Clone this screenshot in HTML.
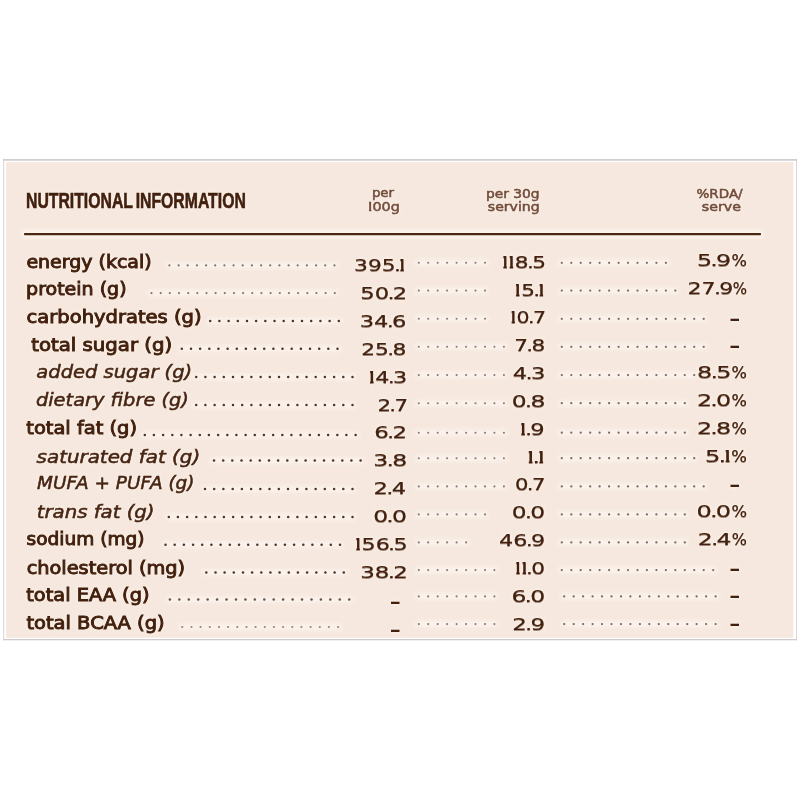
<!DOCTYPE html>
<html lang="en"><head><meta charset="utf-8"><title>Nutritional Information</title>
<style>
html,body{margin:0;padding:0;background:#fff;}
body{width:800px;height:800px;position:relative;overflow:hidden;font-family:"DejaVu Sans","Liberation Sans",sans-serif;}
.t{position:absolute;white-space:nowrap;line-height:1;margin:0;padding:0;color:#43200d;transform-origin:0 0;text-shadow:0 0 3px rgba(255,251,247,.85),0 0 6px rgba(255,251,247,.7);}
.lab{font-size:18.3px;-webkit-text-stroke:0.95px #43200d;}
.labi{font-style:italic;font-size:18.3px;-webkit-text-stroke:0.55px #482512;color:#482512;}
.num{font-size:16.6px;-webkit-text-stroke:0.15px #43200d;text-shadow:0 1px 0 rgba(67,32,13,.5),0 0 3px rgba(255,251,247,.85),0 0 6px rgba(255,251,247,.7);}
.num u{text-decoration:none;display:inline-block;margin:0 -1.3px;}
.num b,.hd b{font-weight:400;display:inline-block;margin-left:-.196em;margin-right:-.148em;clip-path:inset(-1px .226em -2px .253em);}
.num i{font-style:normal;display:inline-block;transform:scaleX(.68);transform-origin:0 50%;margin-left:-0.3px;margin-right:-4.86px;}
.dsh{font-size:16px;font-weight:700;}
.title{font-family:"Liberation Sans",sans-serif;font-weight:700;font-size:22.6px;word-spacing:-2px;-webkit-text-stroke:0.65px #43200d;}
.hd{font-size:13px;color:#734c3a;-webkit-text-stroke:0.55px #734c3a;}
svg{position:absolute;left:0;top:0;}
</style></head>
<body>
<svg width="800" height="800" viewBox="0 0 800 800"><rect x="3.2" y="159.2" width="793.8" height="481" fill="#fff"/><rect x="6.1" y="162.1" width="787.3" height="475.7" fill="#f6e8de"/><rect x="3.2" y="159.2" width="1.05" height="481" fill="#d8d4da"/><rect x="796" y="159.2" width="1.05" height="481" fill="#dbd7dd"/><rect x="3.2" y="159.15" width="793.85" height="1.5" fill="#c9c4c9"/><rect x="3.2" y="639.0" width="793.85" height="1.3" fill="#d0cacf"/></svg>
<div class="t title" style="left:0;top:190px;transform:translateX(26.00px) scaleX(0.6985)">NUTRITIONAL INFORMATION</div>
<div class="t hd" style="left:0;top:186px;transform:translateX(371.89px) scaleX(1.0249)">per</div>
<div class="t hd" style="left:0;top:200px;transform:translateX(368.19px) scaleX(1.1027)"><b>1</b>00g</div>
<div class="t hd" style="left:0;top:187px;transform:translateX(485.90px) scaleX(1.0612)">per 30g</div>
<div class="t hd" style="left:0;top:200px;transform:translateX(487.81px) scaleX(1.0813)">serving</div>
<div class="t hd" style="left:0;top:187px;transform:translateX(696.56px) scaleX(1.0373)">%RDA/</div>
<div class="t hd" style="left:0;top:200px;transform:translateX(701.83px) scaleX(1.0908)">serve</div>
<div class="t lab" style="left:0;top:253px;transform:translateX(26.41px) scaleX(1.0374)">energy (kcal)</div>
<div class="t lab" style="left:0;top:280px;transform:translateX(26.08px) scaleX(1.0394)">protein (g)</div>
<div class="t lab" style="left:0;top:308px;transform:translateX(26.61px) scaleX(1.0671)">carbohydrates (g)</div>
<div class="t lab" style="left:0;top:336px;transform:translateX(31.26px) scaleX(1.0782)">total sugar (g)</div>
<div class="t labi" style="left:0;top:363px;transform:translateX(36.36px) scaleX(1.0659)">added sugar (g)</div>
<div class="t labi" style="left:0;top:391px;transform:translateX(35.93px) scaleX(1.0600)">dietary fibre (g)</div>
<div class="t lab" style="left:0;top:419px;transform:translateX(26.28px) scaleX(1.0636)">total fat (g)</div>
<div class="t labi" style="left:0;top:448px;transform:translateX(36.60px) scaleX(1.0868)">saturated fat (g)</div>
<div class="t labi" style="left:0;top:474px;transform:translateX(37.11px) scaleX(1.0085)">MUFA + PUFA (g)</div>
<div class="t labi" style="left:0;top:503px;transform:translateX(36.76px) scaleX(1.0778)">trans fat (g)</div>
<div class="t lab" style="left:0;top:530px;transform:translateX(26.52px) scaleX(1.0148)">sodium (mg)</div>
<div class="t lab" style="left:0;top:559px;transform:translateX(26.68px) scaleX(1.0567)">cholesterol (mg)</div>
<div class="t lab" style="left:0;top:586px;transform:translateX(26.28px) scaleX(1.0587)">total EAA (g)</div>
<div class="t lab" style="left:0;top:614px;transform:translateX(26.42px) scaleX(1.0648)">total BCAA (g)</div>
<div class="t num" style="left:0;top:258px;transform:translateX(354.05px) scaleX(1.3119)">395<u>.</u><b>1</b></div>
<div class="t num" style="left:0;top:286px;transform:translateX(360.27px) scaleX(1.3674)">50<u>.</u>2</div>
<div class="t num" style="left:0;top:314px;transform:translateX(359.72px) scaleX(1.3603)">34<u>.</u>6</div>
<div class="t num" style="left:0;top:342px;transform:translateX(361.23px) scaleX(1.3132)">25<u>.</u>8</div>
<div class="t num" style="left:0;top:370px;transform:translateX(368.75px) scaleX(1.3423)"><b>1</b>4<u>.</u>3</div>
<div class="t num" style="left:0;top:398px;transform:translateX(377.43px) scaleX(1.2841)">2<u>.</u>7</div>
<div class="t num" style="left:0;top:425px;transform:translateX(374.14px) scaleX(1.3811)">6<u>.</u>2</div>
<div class="t num" style="left:0;top:453px;transform:translateX(373.37px) scaleX(1.4186)">3<u>.</u>8</div>
<div class="t num" style="left:0;top:481px;transform:translateX(373.52px) scaleX(1.3693)">2<u>.</u>4</div>
<div class="t num" style="left:0;top:509px;transform:translateX(373.15px) scaleX(1.4166)">0<u>.</u>0</div>
<div class="t num" style="left:0;top:537px;transform:translateX(355.04px) scaleX(1.3379)"><b>1</b>56<u>.</u>5</div>
<div class="t num" style="left:0;top:565px;transform:translateX(360.21px) scaleX(1.3849)">38<u>.</u>2</div>
<div class="t dsh" style="left:0;top:594px;transform:translateX(389.49px) scaleX(1.7263)">-</div>
<div class="t dsh" style="left:0;top:622px;transform:translateX(389.49px) scaleX(1.7263)">-</div>
<div class="t num" style="left:0;top:255px;transform:translateX(502.13px) scaleX(1.3076)"><b>1</b><b>1</b>8<u>.</u>5</div>
<div class="t num" style="left:0;top:283px;transform:translateX(514.79px) scaleX(1.3056)"><b>1</b>5<u>.</u><b>1</b></div>
<div class="t num" style="left:0;top:310px;transform:translateX(510.48px) scaleX(1.2372)"><b>1</b>0<u>.</u>7</div>
<div class="t num" style="left:0;top:338px;transform:translateX(514.19px) scaleX(1.3013)">7<u>.</u>8</div>
<div class="t num" style="left:0;top:366px;transform:translateX(512.81px) scaleX(1.3656)">4<u>.</u>3</div>
<div class="t num" style="left:0;top:394px;transform:translateX(511.68px) scaleX(1.4128)">0<u>.</u>8</div>
<div class="t num" style="left:0;top:422px;transform:translateX(520.01px) scaleX(1.3676)"><b>1</b><u>.</u>9</div>
<div class="t num" style="left:0;top:450px;transform:translateX(527.46px) scaleX(1.4061)"><b>1</b><u>.</u><b>1</b></div>
<div class="t num" style="left:0;top:477px;transform:translateX(514.94px) scaleX(1.2782)">0<u>.</u>7</div>
<div class="t num" style="left:0;top:505px;transform:translateX(511.69px) scaleX(1.4082)">0<u>.</u>0</div>
<div class="t num" style="left:0;top:533px;transform:translateX(498.97px) scaleX(1.3448)">46<u>.</u>9</div>
<div class="t num" style="left:0;top:561px;transform:translateX(515.08px) scaleX(1.3040)"><b>1</b><b>1</b><u>.</u>0</div>
<div class="t num" style="left:0;top:589px;transform:translateX(511.51px) scaleX(1.4151)">6<u>.</u>0</div>
<div class="t num" style="left:0;top:617px;transform:translateX(512.17px) scaleX(1.3863)">2<u>.</u>9</div>
<div class="t num" style="left:0;top:253px;transform:translateX(696.92px) scaleX(1.4391)">5<u>.</u>9<i>%</i></div>
<div class="t num" style="left:0;top:281px;transform:translateX(687.45px) scaleX(1.3345)">27<u>.</u>9<i>%</i></div>
<div class="t dsh" style="left:0;top:311px;transform:translateX(728.88px) scaleX(1.7310)">-</div>
<div class="t dsh" style="left:0;top:338px;transform:translateX(728.88px) scaleX(1.7310)">-</div>
<div class="t num" style="left:0;top:365px;transform:translateX(697.08px) scaleX(1.4383)">8<u>.</u>5<i>%</i></div>
<div class="t num" style="left:0;top:393px;transform:translateX(697.05px) scaleX(1.4376)">2<u>.</u>0<i>%</i></div>
<div class="t num" style="left:0;top:421px;transform:translateX(697.05px) scaleX(1.4376)">2<u>.</u>8<i>%</i></div>
<div class="t num" style="left:0;top:449px;transform:translateX(705.01px) scaleX(1.4599)">5<u>.</u><b>1</b><i>%</i></div>
<div class="t dsh" style="left:0;top:477px;transform:translateX(728.88px) scaleX(1.7310)">-</div>
<div class="t num" style="left:0;top:504px;transform:translateX(696.60px) scaleX(1.4534)">0<u>.</u>0<i>%</i></div>
<div class="t num" style="left:0;top:532px;transform:translateX(697.78px) scaleX(1.4156)">2<u>.</u>4<i>%</i></div>
<div class="t dsh" style="left:0;top:561px;transform:translateX(728.88px) scaleX(1.7310)">-</div>
<div class="t dsh" style="left:0;top:588px;transform:translateX(728.88px) scaleX(1.7310)">-</div>
<div class="t dsh" style="left:0;top:616px;transform:translateX(728.88px) scaleX(1.7310)">-</div>
<svg width="800" height="800" viewBox="0 0 800 800"><defs><filter id="bl" x="-5%" y="-200%" width="110%" height="500%"><feGaussianBlur stdDeviation="2.2"/></filter></defs><rect x="22" y="230.6" width="741" height="7" fill="#fffaf6" opacity=".8" filter="url(#bl)"/><rect x="24" y="233.05" width="737" height="2.25" rx=".8" fill="#4b2711"/><rect x="166.4" y="262.9" width="171.0" height="5" fill="#fffaf6" opacity=".75" filter="url(#bl)"/><g fill="#857468"><circle cx="169.4" cy="265.4" r="1.1"/><circle cx="178.6" cy="265.4" r="1.1"/><circle cx="187.7" cy="265.4" r="1.1"/><circle cx="196.9" cy="265.4" r="1.1"/><circle cx="206.1" cy="265.4" r="1.1"/><circle cx="215.2" cy="265.4" r="1.1"/><circle cx="224.4" cy="265.4" r="1.1"/><circle cx="233.6" cy="265.4" r="1.1"/><circle cx="242.7" cy="265.4" r="1.1"/><circle cx="251.9" cy="265.4" r="1.1"/><circle cx="261.1" cy="265.4" r="1.1"/><circle cx="270.2" cy="265.4" r="1.1"/><circle cx="279.4" cy="265.4" r="1.1"/><circle cx="288.6" cy="265.4" r="1.1"/><circle cx="297.7" cy="265.4" r="1.1"/><circle cx="306.9" cy="265.4" r="1.1"/><circle cx="316.1" cy="265.4" r="1.1"/><circle cx="325.2" cy="265.4" r="1.1"/><circle cx="334.4" cy="265.4" r="1.1"/></g><rect x="415.8" y="260.3" width="72.2" height="5" fill="#fffaf6" opacity=".75" filter="url(#bl)"/><g fill="#8e7a6e"><circle cx="418.8" cy="262.8" r="1.05"/><circle cx="428.2" cy="262.8" r="1.05"/><circle cx="437.7" cy="262.8" r="1.05"/><circle cx="447.1" cy="262.8" r="1.05"/><circle cx="456.6" cy="262.8" r="1.05"/><circle cx="466.1" cy="262.8" r="1.05"/><circle cx="475.5" cy="262.8" r="1.05"/><circle cx="485.0" cy="262.8" r="1.05"/></g><rect x="558.8" y="260.3" width="110.1" height="5" fill="#fffaf6" opacity=".75" filter="url(#bl)"/><g fill="#7d685c"><circle cx="561.8" cy="262.8" r="1.12"/><circle cx="571.3" cy="262.8" r="1.12"/><circle cx="580.7" cy="262.8" r="1.12"/><circle cx="590.2" cy="262.8" r="1.12"/><circle cx="599.6" cy="262.8" r="1.12"/><circle cx="609.1" cy="262.8" r="1.12"/><circle cx="618.6" cy="262.8" r="1.12"/><circle cx="628.0" cy="262.8" r="1.12"/><circle cx="637.5" cy="262.8" r="1.12"/><circle cx="646.9" cy="262.8" r="1.12"/><circle cx="656.4" cy="262.8" r="1.12"/><circle cx="665.9" cy="262.8" r="1.12"/></g><rect x="148.5" y="290.6" width="189.2" height="5" fill="#fffaf6" opacity=".75" filter="url(#bl)"/><g fill="#857468"><circle cx="151.5" cy="293.1" r="1.1"/><circle cx="160.7" cy="293.1" r="1.1"/><circle cx="169.8" cy="293.1" r="1.1"/><circle cx="179.0" cy="293.1" r="1.1"/><circle cx="188.2" cy="293.1" r="1.1"/><circle cx="197.3" cy="293.1" r="1.1"/><circle cx="206.5" cy="293.1" r="1.1"/><circle cx="215.6" cy="293.1" r="1.1"/><circle cx="224.8" cy="293.1" r="1.1"/><circle cx="234.0" cy="293.1" r="1.1"/><circle cx="243.1" cy="293.1" r="1.1"/><circle cx="252.3" cy="293.1" r="1.1"/><circle cx="261.4" cy="293.1" r="1.1"/><circle cx="270.6" cy="293.1" r="1.1"/><circle cx="279.8" cy="293.1" r="1.1"/><circle cx="288.9" cy="293.1" r="1.1"/><circle cx="298.1" cy="293.1" r="1.1"/><circle cx="307.3" cy="293.1" r="1.1"/><circle cx="316.4" cy="293.1" r="1.1"/><circle cx="325.6" cy="293.1" r="1.1"/><circle cx="334.8" cy="293.1" r="1.1"/></g><rect x="415.8" y="288.1" width="72.2" height="5" fill="#fffaf6" opacity=".75" filter="url(#bl)"/><g fill="#8e7a6e"><circle cx="418.8" cy="290.6" r="1.05"/><circle cx="428.2" cy="290.6" r="1.05"/><circle cx="437.7" cy="290.6" r="1.05"/><circle cx="447.1" cy="290.6" r="1.05"/><circle cx="456.6" cy="290.6" r="1.05"/><circle cx="466.1" cy="290.6" r="1.05"/><circle cx="475.5" cy="290.6" r="1.05"/><circle cx="485.0" cy="290.6" r="1.05"/></g><rect x="558.8" y="288.1" width="119.5" height="5" fill="#fffaf6" opacity=".75" filter="url(#bl)"/><g fill="#7d685c"><circle cx="561.8" cy="290.6" r="1.12"/><circle cx="571.3" cy="290.6" r="1.12"/><circle cx="580.7" cy="290.6" r="1.12"/><circle cx="590.2" cy="290.6" r="1.12"/><circle cx="599.6" cy="290.6" r="1.12"/><circle cx="609.1" cy="290.6" r="1.12"/><circle cx="618.6" cy="290.6" r="1.12"/><circle cx="628.0" cy="290.6" r="1.12"/><circle cx="637.5" cy="290.6" r="1.12"/><circle cx="646.9" cy="290.6" r="1.12"/><circle cx="656.4" cy="290.6" r="1.12"/><circle cx="665.9" cy="290.6" r="1.12"/><circle cx="675.3" cy="290.6" r="1.12"/></g><rect x="207.2" y="318.5" width="134.5" height="5" fill="#fffaf6" opacity=".75" filter="url(#bl)"/><g fill="#4f3325"><circle cx="210.2" cy="321.0" r="1.25"/><circle cx="219.4" cy="321.0" r="1.25"/><circle cx="228.6" cy="321.0" r="1.25"/><circle cx="237.8" cy="321.0" r="1.25"/><circle cx="247.0" cy="321.0" r="1.25"/><circle cx="256.1" cy="321.0" r="1.25"/><circle cx="265.3" cy="321.0" r="1.25"/><circle cx="274.5" cy="321.0" r="1.25"/><circle cx="283.7" cy="321.0" r="1.25"/><circle cx="292.9" cy="321.0" r="1.25"/><circle cx="302.0" cy="321.0" r="1.25"/><circle cx="311.2" cy="321.0" r="1.25"/><circle cx="320.4" cy="321.0" r="1.25"/><circle cx="329.6" cy="321.0" r="1.25"/><circle cx="338.8" cy="321.0" r="1.25"/></g><rect x="415.8" y="316.2" width="72.2" height="5" fill="#fffaf6" opacity=".75" filter="url(#bl)"/><g fill="#8e7a6e"><circle cx="418.8" cy="318.8" r="1.05"/><circle cx="428.2" cy="318.8" r="1.05"/><circle cx="437.7" cy="318.8" r="1.05"/><circle cx="447.1" cy="318.8" r="1.05"/><circle cx="456.6" cy="318.8" r="1.05"/><circle cx="466.1" cy="318.8" r="1.05"/><circle cx="475.5" cy="318.8" r="1.05"/><circle cx="485.0" cy="318.8" r="1.05"/></g><rect x="558.8" y="316.2" width="147.9" height="5" fill="#fffaf6" opacity=".75" filter="url(#bl)"/><g fill="#7d685c"><circle cx="561.8" cy="318.8" r="1.12"/><circle cx="571.3" cy="318.8" r="1.12"/><circle cx="580.7" cy="318.8" r="1.12"/><circle cx="590.2" cy="318.8" r="1.12"/><circle cx="599.6" cy="318.8" r="1.12"/><circle cx="609.1" cy="318.8" r="1.12"/><circle cx="618.6" cy="318.8" r="1.12"/><circle cx="628.0" cy="318.8" r="1.12"/><circle cx="637.5" cy="318.8" r="1.12"/><circle cx="646.9" cy="318.8" r="1.12"/><circle cx="656.4" cy="318.8" r="1.12"/><circle cx="665.9" cy="318.8" r="1.12"/><circle cx="675.3" cy="318.8" r="1.12"/><circle cx="684.8" cy="318.8" r="1.12"/><circle cx="694.2" cy="318.8" r="1.12"/><circle cx="703.7" cy="318.8" r="1.12"/></g><rect x="178.8" y="346.2" width="161.7" height="5" fill="#fffaf6" opacity=".75" filter="url(#bl)"/><g fill="#4f3325"><circle cx="181.8" cy="348.8" r="1.25"/><circle cx="191.0" cy="348.8" r="1.25"/><circle cx="200.1" cy="348.8" r="1.25"/><circle cx="209.3" cy="348.8" r="1.25"/><circle cx="218.4" cy="348.8" r="1.25"/><circle cx="227.6" cy="348.8" r="1.25"/><circle cx="236.8" cy="348.8" r="1.25"/><circle cx="245.9" cy="348.8" r="1.25"/><circle cx="255.1" cy="348.8" r="1.25"/><circle cx="264.2" cy="348.8" r="1.25"/><circle cx="273.4" cy="348.8" r="1.25"/><circle cx="282.5" cy="348.8" r="1.25"/><circle cx="291.7" cy="348.8" r="1.25"/><circle cx="300.9" cy="348.8" r="1.25"/><circle cx="310.0" cy="348.8" r="1.25"/><circle cx="319.2" cy="348.8" r="1.25"/><circle cx="328.3" cy="348.8" r="1.25"/><circle cx="337.5" cy="348.8" r="1.25"/></g><rect x="415.8" y="344.2" width="91.1" height="5" fill="#fffaf6" opacity=".75" filter="url(#bl)"/><g fill="#8e7a6e"><circle cx="418.8" cy="346.8" r="1.05"/><circle cx="428.2" cy="346.8" r="1.05"/><circle cx="437.7" cy="346.8" r="1.05"/><circle cx="447.1" cy="346.8" r="1.05"/><circle cx="456.6" cy="346.8" r="1.05"/><circle cx="466.1" cy="346.8" r="1.05"/><circle cx="475.5" cy="346.8" r="1.05"/><circle cx="485.0" cy="346.8" r="1.05"/><circle cx="494.4" cy="346.8" r="1.05"/><circle cx="503.9" cy="346.8" r="1.05"/></g><rect x="558.8" y="344.2" width="147.9" height="5" fill="#fffaf6" opacity=".75" filter="url(#bl)"/><g fill="#7d685c"><circle cx="561.8" cy="346.8" r="1.12"/><circle cx="571.3" cy="346.8" r="1.12"/><circle cx="580.7" cy="346.8" r="1.12"/><circle cx="590.2" cy="346.8" r="1.12"/><circle cx="599.6" cy="346.8" r="1.12"/><circle cx="609.1" cy="346.8" r="1.12"/><circle cx="618.6" cy="346.8" r="1.12"/><circle cx="628.0" cy="346.8" r="1.12"/><circle cx="637.5" cy="346.8" r="1.12"/><circle cx="646.9" cy="346.8" r="1.12"/><circle cx="656.4" cy="346.8" r="1.12"/><circle cx="665.9" cy="346.8" r="1.12"/><circle cx="675.3" cy="346.8" r="1.12"/><circle cx="684.8" cy="346.8" r="1.12"/><circle cx="694.2" cy="346.8" r="1.12"/><circle cx="703.7" cy="346.8" r="1.12"/></g><rect x="193.2" y="374.4" width="162.2" height="5" fill="#fffaf6" opacity=".75" filter="url(#bl)"/><g fill="#4f3325"><circle cx="196.2" cy="376.9" r="1.25"/><circle cx="205.4" cy="376.9" r="1.25"/><circle cx="214.6" cy="376.9" r="1.25"/><circle cx="223.8" cy="376.9" r="1.25"/><circle cx="233.0" cy="376.9" r="1.25"/><circle cx="242.2" cy="376.9" r="1.25"/><circle cx="251.4" cy="376.9" r="1.25"/><circle cx="260.6" cy="376.9" r="1.25"/><circle cx="269.8" cy="376.9" r="1.25"/><circle cx="279.0" cy="376.9" r="1.25"/><circle cx="288.2" cy="376.9" r="1.25"/><circle cx="297.4" cy="376.9" r="1.25"/><circle cx="306.5" cy="376.9" r="1.25"/><circle cx="315.7" cy="376.9" r="1.25"/><circle cx="324.9" cy="376.9" r="1.25"/><circle cx="334.1" cy="376.9" r="1.25"/><circle cx="343.3" cy="376.9" r="1.25"/><circle cx="352.5" cy="376.9" r="1.25"/></g><rect x="415.8" y="372.6" width="91.1" height="5" fill="#fffaf6" opacity=".75" filter="url(#bl)"/><g fill="#8e7a6e"><circle cx="418.8" cy="375.1" r="1.05"/><circle cx="428.2" cy="375.1" r="1.05"/><circle cx="437.7" cy="375.1" r="1.05"/><circle cx="447.1" cy="375.1" r="1.05"/><circle cx="456.6" cy="375.1" r="1.05"/><circle cx="466.1" cy="375.1" r="1.05"/><circle cx="475.5" cy="375.1" r="1.05"/><circle cx="485.0" cy="375.1" r="1.05"/><circle cx="494.4" cy="375.1" r="1.05"/><circle cx="503.9" cy="375.1" r="1.05"/></g><rect x="558.8" y="372.6" width="138.4" height="5" fill="#fffaf6" opacity=".75" filter="url(#bl)"/><g fill="#7d685c"><circle cx="561.8" cy="375.1" r="1.12"/><circle cx="571.3" cy="375.1" r="1.12"/><circle cx="580.7" cy="375.1" r="1.12"/><circle cx="590.2" cy="375.1" r="1.12"/><circle cx="599.6" cy="375.1" r="1.12"/><circle cx="609.1" cy="375.1" r="1.12"/><circle cx="618.6" cy="375.1" r="1.12"/><circle cx="628.0" cy="375.1" r="1.12"/><circle cx="637.5" cy="375.1" r="1.12"/><circle cx="646.9" cy="375.1" r="1.12"/><circle cx="656.4" cy="375.1" r="1.12"/><circle cx="665.9" cy="375.1" r="1.12"/><circle cx="675.3" cy="375.1" r="1.12"/><circle cx="684.8" cy="375.1" r="1.12"/><circle cx="694.2" cy="375.1" r="1.12"/></g><rect x="193.2" y="402.5" width="162.2" height="5" fill="#fffaf6" opacity=".75" filter="url(#bl)"/><g fill="#4f3325"><circle cx="196.2" cy="405.0" r="1.25"/><circle cx="205.4" cy="405.0" r="1.25"/><circle cx="214.6" cy="405.0" r="1.25"/><circle cx="223.8" cy="405.0" r="1.25"/><circle cx="233.0" cy="405.0" r="1.25"/><circle cx="242.2" cy="405.0" r="1.25"/><circle cx="251.4" cy="405.0" r="1.25"/><circle cx="260.6" cy="405.0" r="1.25"/><circle cx="269.8" cy="405.0" r="1.25"/><circle cx="279.0" cy="405.0" r="1.25"/><circle cx="288.2" cy="405.0" r="1.25"/><circle cx="297.4" cy="405.0" r="1.25"/><circle cx="306.5" cy="405.0" r="1.25"/><circle cx="315.7" cy="405.0" r="1.25"/><circle cx="324.9" cy="405.0" r="1.25"/><circle cx="334.1" cy="405.0" r="1.25"/><circle cx="343.3" cy="405.0" r="1.25"/><circle cx="352.5" cy="405.0" r="1.25"/></g><rect x="415.8" y="400.8" width="91.1" height="5" fill="#fffaf6" opacity=".75" filter="url(#bl)"/><g fill="#8e7a6e"><circle cx="418.8" cy="403.2" r="1.05"/><circle cx="428.2" cy="403.2" r="1.05"/><circle cx="437.7" cy="403.2" r="1.05"/><circle cx="447.1" cy="403.2" r="1.05"/><circle cx="456.6" cy="403.2" r="1.05"/><circle cx="466.1" cy="403.2" r="1.05"/><circle cx="475.5" cy="403.2" r="1.05"/><circle cx="485.0" cy="403.2" r="1.05"/><circle cx="494.4" cy="403.2" r="1.05"/><circle cx="503.9" cy="403.2" r="1.05"/></g><rect x="558.8" y="400.8" width="129.0" height="5" fill="#fffaf6" opacity=".75" filter="url(#bl)"/><g fill="#7d685c"><circle cx="561.8" cy="403.2" r="1.12"/><circle cx="571.3" cy="403.2" r="1.12"/><circle cx="580.7" cy="403.2" r="1.12"/><circle cx="590.2" cy="403.2" r="1.12"/><circle cx="599.6" cy="403.2" r="1.12"/><circle cx="609.1" cy="403.2" r="1.12"/><circle cx="618.6" cy="403.2" r="1.12"/><circle cx="628.0" cy="403.2" r="1.12"/><circle cx="637.5" cy="403.2" r="1.12"/><circle cx="646.9" cy="403.2" r="1.12"/><circle cx="656.4" cy="403.2" r="1.12"/><circle cx="665.9" cy="403.2" r="1.12"/><circle cx="675.3" cy="403.2" r="1.12"/><circle cx="684.8" cy="403.2" r="1.12"/></g><rect x="141.8" y="432.5" width="216.9" height="5" fill="#fffaf6" opacity=".75" filter="url(#bl)"/><g fill="#4f3325"><circle cx="144.8" cy="435.0" r="1.25"/><circle cx="153.9" cy="435.0" r="1.25"/><circle cx="163.1" cy="435.0" r="1.25"/><circle cx="172.3" cy="435.0" r="1.25"/><circle cx="181.4" cy="435.0" r="1.25"/><circle cx="190.6" cy="435.0" r="1.25"/><circle cx="199.8" cy="435.0" r="1.25"/><circle cx="208.9" cy="435.0" r="1.25"/><circle cx="218.1" cy="435.0" r="1.25"/><circle cx="227.3" cy="435.0" r="1.25"/><circle cx="236.4" cy="435.0" r="1.25"/><circle cx="245.6" cy="435.0" r="1.25"/><circle cx="254.8" cy="435.0" r="1.25"/><circle cx="263.9" cy="435.0" r="1.25"/><circle cx="273.1" cy="435.0" r="1.25"/><circle cx="282.3" cy="435.0" r="1.25"/><circle cx="291.4" cy="435.0" r="1.25"/><circle cx="300.6" cy="435.0" r="1.25"/><circle cx="309.8" cy="435.0" r="1.25"/><circle cx="318.9" cy="435.0" r="1.25"/><circle cx="328.1" cy="435.0" r="1.25"/><circle cx="337.3" cy="435.0" r="1.25"/><circle cx="346.4" cy="435.0" r="1.25"/><circle cx="355.6" cy="435.0" r="1.25"/></g><rect x="415.8" y="430.2" width="91.1" height="5" fill="#fffaf6" opacity=".75" filter="url(#bl)"/><g fill="#8e7a6e"><circle cx="418.8" cy="432.7" r="1.05"/><circle cx="428.2" cy="432.7" r="1.05"/><circle cx="437.7" cy="432.7" r="1.05"/><circle cx="447.1" cy="432.7" r="1.05"/><circle cx="456.6" cy="432.7" r="1.05"/><circle cx="466.1" cy="432.7" r="1.05"/><circle cx="475.5" cy="432.7" r="1.05"/><circle cx="485.0" cy="432.7" r="1.05"/><circle cx="494.4" cy="432.7" r="1.05"/><circle cx="503.9" cy="432.7" r="1.05"/></g><rect x="558.8" y="430.2" width="129.0" height="5" fill="#fffaf6" opacity=".75" filter="url(#bl)"/><g fill="#7d685c"><circle cx="561.8" cy="432.7" r="1.12"/><circle cx="571.3" cy="432.7" r="1.12"/><circle cx="580.7" cy="432.7" r="1.12"/><circle cx="590.2" cy="432.7" r="1.12"/><circle cx="599.6" cy="432.7" r="1.12"/><circle cx="609.1" cy="432.7" r="1.12"/><circle cx="618.6" cy="432.7" r="1.12"/><circle cx="628.0" cy="432.7" r="1.12"/><circle cx="637.5" cy="432.7" r="1.12"/><circle cx="646.9" cy="432.7" r="1.12"/><circle cx="656.4" cy="432.7" r="1.12"/><circle cx="665.9" cy="432.7" r="1.12"/><circle cx="675.3" cy="432.7" r="1.12"/><circle cx="684.8" cy="432.7" r="1.12"/></g><rect x="211.0" y="458.1" width="152.6" height="5" fill="#fffaf6" opacity=".75" filter="url(#bl)"/><g fill="#4f3325"><circle cx="214.0" cy="460.6" r="1.25"/><circle cx="223.2" cy="460.6" r="1.25"/><circle cx="232.3" cy="460.6" r="1.25"/><circle cx="241.5" cy="460.6" r="1.25"/><circle cx="250.7" cy="460.6" r="1.25"/><circle cx="259.8" cy="460.6" r="1.25"/><circle cx="269.0" cy="460.6" r="1.25"/><circle cx="278.1" cy="460.6" r="1.25"/><circle cx="287.3" cy="460.6" r="1.25"/><circle cx="296.5" cy="460.6" r="1.25"/><circle cx="305.6" cy="460.6" r="1.25"/><circle cx="314.8" cy="460.6" r="1.25"/><circle cx="324.0" cy="460.6" r="1.25"/><circle cx="333.1" cy="460.6" r="1.25"/><circle cx="342.3" cy="460.6" r="1.25"/><circle cx="351.4" cy="460.6" r="1.25"/><circle cx="360.6" cy="460.6" r="1.25"/></g><rect x="415.8" y="455.8" width="91.1" height="5" fill="#fffaf6" opacity=".75" filter="url(#bl)"/><g fill="#8e7a6e"><circle cx="418.8" cy="458.2" r="1.05"/><circle cx="428.2" cy="458.2" r="1.05"/><circle cx="437.7" cy="458.2" r="1.05"/><circle cx="447.1" cy="458.2" r="1.05"/><circle cx="456.6" cy="458.2" r="1.05"/><circle cx="466.1" cy="458.2" r="1.05"/><circle cx="475.5" cy="458.2" r="1.05"/><circle cx="485.0" cy="458.2" r="1.05"/><circle cx="494.4" cy="458.2" r="1.05"/><circle cx="503.9" cy="458.2" r="1.05"/></g><rect x="558.8" y="455.8" width="138.4" height="5" fill="#fffaf6" opacity=".75" filter="url(#bl)"/><g fill="#7d685c"><circle cx="561.8" cy="458.2" r="1.12"/><circle cx="571.3" cy="458.2" r="1.12"/><circle cx="580.7" cy="458.2" r="1.12"/><circle cx="590.2" cy="458.2" r="1.12"/><circle cx="599.6" cy="458.2" r="1.12"/><circle cx="609.1" cy="458.2" r="1.12"/><circle cx="618.6" cy="458.2" r="1.12"/><circle cx="628.0" cy="458.2" r="1.12"/><circle cx="637.5" cy="458.2" r="1.12"/><circle cx="646.9" cy="458.2" r="1.12"/><circle cx="656.4" cy="458.2" r="1.12"/><circle cx="665.9" cy="458.2" r="1.12"/><circle cx="675.3" cy="458.2" r="1.12"/><circle cx="684.8" cy="458.2" r="1.12"/><circle cx="694.2" cy="458.2" r="1.12"/></g><rect x="202.0" y="486.6" width="153.5" height="5" fill="#fffaf6" opacity=".75" filter="url(#bl)"/><g fill="#4f3325"><circle cx="205.0" cy="489.1" r="1.25"/><circle cx="214.2" cy="489.1" r="1.25"/><circle cx="223.4" cy="489.1" r="1.25"/><circle cx="232.7" cy="489.1" r="1.25"/><circle cx="241.9" cy="489.1" r="1.25"/><circle cx="251.1" cy="489.1" r="1.25"/><circle cx="260.3" cy="489.1" r="1.25"/><circle cx="269.5" cy="489.1" r="1.25"/><circle cx="278.8" cy="489.1" r="1.25"/><circle cx="288.0" cy="489.1" r="1.25"/><circle cx="297.2" cy="489.1" r="1.25"/><circle cx="306.4" cy="489.1" r="1.25"/><circle cx="315.6" cy="489.1" r="1.25"/><circle cx="324.8" cy="489.1" r="1.25"/><circle cx="334.1" cy="489.1" r="1.25"/><circle cx="343.3" cy="489.1" r="1.25"/><circle cx="352.5" cy="489.1" r="1.25"/></g><rect x="415.8" y="483.9" width="91.1" height="5" fill="#fffaf6" opacity=".75" filter="url(#bl)"/><g fill="#8e7a6e"><circle cx="418.8" cy="486.4" r="1.05"/><circle cx="428.2" cy="486.4" r="1.05"/><circle cx="437.7" cy="486.4" r="1.05"/><circle cx="447.1" cy="486.4" r="1.05"/><circle cx="456.6" cy="486.4" r="1.05"/><circle cx="466.1" cy="486.4" r="1.05"/><circle cx="475.5" cy="486.4" r="1.05"/><circle cx="485.0" cy="486.4" r="1.05"/><circle cx="494.4" cy="486.4" r="1.05"/><circle cx="503.9" cy="486.4" r="1.05"/></g><rect x="558.8" y="483.9" width="147.9" height="5" fill="#fffaf6" opacity=".75" filter="url(#bl)"/><g fill="#7d685c"><circle cx="561.8" cy="486.4" r="1.12"/><circle cx="571.3" cy="486.4" r="1.12"/><circle cx="580.7" cy="486.4" r="1.12"/><circle cx="590.2" cy="486.4" r="1.12"/><circle cx="599.6" cy="486.4" r="1.12"/><circle cx="609.1" cy="486.4" r="1.12"/><circle cx="618.6" cy="486.4" r="1.12"/><circle cx="628.0" cy="486.4" r="1.12"/><circle cx="637.5" cy="486.4" r="1.12"/><circle cx="646.9" cy="486.4" r="1.12"/><circle cx="656.4" cy="486.4" r="1.12"/><circle cx="665.9" cy="486.4" r="1.12"/><circle cx="675.3" cy="486.4" r="1.12"/><circle cx="684.8" cy="486.4" r="1.12"/><circle cx="694.2" cy="486.4" r="1.12"/><circle cx="703.7" cy="486.4" r="1.12"/></g><rect x="165.8" y="514.4" width="189.8" height="5" fill="#fffaf6" opacity=".75" filter="url(#bl)"/><g fill="#4f3325"><circle cx="168.8" cy="516.9" r="1.25"/><circle cx="177.9" cy="516.9" r="1.25"/><circle cx="187.1" cy="516.9" r="1.25"/><circle cx="196.3" cy="516.9" r="1.25"/><circle cx="205.5" cy="516.9" r="1.25"/><circle cx="214.7" cy="516.9" r="1.25"/><circle cx="223.9" cy="516.9" r="1.25"/><circle cx="233.1" cy="516.9" r="1.25"/><circle cx="242.2" cy="516.9" r="1.25"/><circle cx="251.4" cy="516.9" r="1.25"/><circle cx="260.6" cy="516.9" r="1.25"/><circle cx="269.8" cy="516.9" r="1.25"/><circle cx="279.0" cy="516.9" r="1.25"/><circle cx="288.2" cy="516.9" r="1.25"/><circle cx="297.4" cy="516.9" r="1.25"/><circle cx="306.6" cy="516.9" r="1.25"/><circle cx="315.8" cy="516.9" r="1.25"/><circle cx="324.9" cy="516.9" r="1.25"/><circle cx="334.1" cy="516.9" r="1.25"/><circle cx="343.3" cy="516.9" r="1.25"/><circle cx="352.5" cy="516.9" r="1.25"/></g><rect x="415.8" y="511.9" width="72.2" height="5" fill="#fffaf6" opacity=".75" filter="url(#bl)"/><g fill="#8e7a6e"><circle cx="418.8" cy="514.4" r="1.05"/><circle cx="428.2" cy="514.4" r="1.05"/><circle cx="437.7" cy="514.4" r="1.05"/><circle cx="447.1" cy="514.4" r="1.05"/><circle cx="456.6" cy="514.4" r="1.05"/><circle cx="466.1" cy="514.4" r="1.05"/><circle cx="475.5" cy="514.4" r="1.05"/><circle cx="485.0" cy="514.4" r="1.05"/></g><rect x="558.8" y="511.9" width="129.0" height="5" fill="#fffaf6" opacity=".75" filter="url(#bl)"/><g fill="#7d685c"><circle cx="561.8" cy="514.4" r="1.12"/><circle cx="571.3" cy="514.4" r="1.12"/><circle cx="580.7" cy="514.4" r="1.12"/><circle cx="590.2" cy="514.4" r="1.12"/><circle cx="599.6" cy="514.4" r="1.12"/><circle cx="609.1" cy="514.4" r="1.12"/><circle cx="618.6" cy="514.4" r="1.12"/><circle cx="628.0" cy="514.4" r="1.12"/><circle cx="637.5" cy="514.4" r="1.12"/><circle cx="646.9" cy="514.4" r="1.12"/><circle cx="656.4" cy="514.4" r="1.12"/><circle cx="665.9" cy="514.4" r="1.12"/><circle cx="675.3" cy="514.4" r="1.12"/><circle cx="684.8" cy="514.4" r="1.12"/></g><rect x="162.5" y="542.2" width="180.5" height="5" fill="#fffaf6" opacity=".75" filter="url(#bl)"/><g fill="#4f3325"><circle cx="165.5" cy="544.7" r="1.25"/><circle cx="174.7" cy="544.7" r="1.25"/><circle cx="183.9" cy="544.7" r="1.25"/><circle cx="193.1" cy="544.7" r="1.25"/><circle cx="202.2" cy="544.7" r="1.25"/><circle cx="211.4" cy="544.7" r="1.25"/><circle cx="220.6" cy="544.7" r="1.25"/><circle cx="229.8" cy="544.7" r="1.25"/><circle cx="239.0" cy="544.7" r="1.25"/><circle cx="248.2" cy="544.7" r="1.25"/><circle cx="257.3" cy="544.7" r="1.25"/><circle cx="266.5" cy="544.7" r="1.25"/><circle cx="275.7" cy="544.7" r="1.25"/><circle cx="284.9" cy="544.7" r="1.25"/><circle cx="294.1" cy="544.7" r="1.25"/><circle cx="303.3" cy="544.7" r="1.25"/><circle cx="312.4" cy="544.7" r="1.25"/><circle cx="321.6" cy="544.7" r="1.25"/><circle cx="330.8" cy="544.7" r="1.25"/><circle cx="340.0" cy="544.7" r="1.25"/></g><rect x="415.8" y="539.9" width="53.3" height="5" fill="#fffaf6" opacity=".75" filter="url(#bl)"/><g fill="#8e7a6e"><circle cx="418.8" cy="542.4" r="1.05"/><circle cx="428.2" cy="542.4" r="1.05"/><circle cx="437.7" cy="542.4" r="1.05"/><circle cx="447.1" cy="542.4" r="1.05"/><circle cx="456.6" cy="542.4" r="1.05"/><circle cx="466.1" cy="542.4" r="1.05"/></g><rect x="558.8" y="539.9" width="129.0" height="5" fill="#fffaf6" opacity=".75" filter="url(#bl)"/><g fill="#7d685c"><circle cx="561.8" cy="542.4" r="1.12"/><circle cx="571.3" cy="542.4" r="1.12"/><circle cx="580.7" cy="542.4" r="1.12"/><circle cx="590.2" cy="542.4" r="1.12"/><circle cx="599.6" cy="542.4" r="1.12"/><circle cx="609.1" cy="542.4" r="1.12"/><circle cx="618.6" cy="542.4" r="1.12"/><circle cx="628.0" cy="542.4" r="1.12"/><circle cx="637.5" cy="542.4" r="1.12"/><circle cx="646.9" cy="542.4" r="1.12"/><circle cx="656.4" cy="542.4" r="1.12"/><circle cx="665.9" cy="542.4" r="1.12"/><circle cx="675.3" cy="542.4" r="1.12"/><circle cx="684.8" cy="542.4" r="1.12"/></g><rect x="203.3" y="570.0" width="143.4" height="5" fill="#fffaf6" opacity=".75" filter="url(#bl)"/><g fill="#4f3325"><circle cx="206.3" cy="572.5" r="1.25"/><circle cx="215.5" cy="572.5" r="1.25"/><circle cx="224.6" cy="572.5" r="1.25"/><circle cx="233.8" cy="572.5" r="1.25"/><circle cx="243.0" cy="572.5" r="1.25"/><circle cx="252.1" cy="572.5" r="1.25"/><circle cx="261.3" cy="572.5" r="1.25"/><circle cx="270.4" cy="572.5" r="1.25"/><circle cx="279.6" cy="572.5" r="1.25"/><circle cx="288.8" cy="572.5" r="1.25"/><circle cx="297.9" cy="572.5" r="1.25"/><circle cx="307.1" cy="572.5" r="1.25"/><circle cx="316.3" cy="572.5" r="1.25"/><circle cx="325.4" cy="572.5" r="1.25"/><circle cx="334.6" cy="572.5" r="1.25"/><circle cx="343.8" cy="572.5" r="1.25"/></g><rect x="415.8" y="567.6" width="81.7" height="5" fill="#fffaf6" opacity=".75" filter="url(#bl)"/><g fill="#8e7a6e"><circle cx="418.8" cy="570.1" r="1.05"/><circle cx="428.2" cy="570.1" r="1.05"/><circle cx="437.7" cy="570.1" r="1.05"/><circle cx="447.1" cy="570.1" r="1.05"/><circle cx="456.6" cy="570.1" r="1.05"/><circle cx="466.1" cy="570.1" r="1.05"/><circle cx="475.5" cy="570.1" r="1.05"/><circle cx="485.0" cy="570.1" r="1.05"/><circle cx="494.4" cy="570.1" r="1.05"/></g><rect x="558.8" y="567.6" width="157.4" height="5" fill="#fffaf6" opacity=".75" filter="url(#bl)"/><g fill="#7d685c"><circle cx="561.8" cy="570.1" r="1.12"/><circle cx="571.3" cy="570.1" r="1.12"/><circle cx="580.7" cy="570.1" r="1.12"/><circle cx="590.2" cy="570.1" r="1.12"/><circle cx="599.6" cy="570.1" r="1.12"/><circle cx="609.1" cy="570.1" r="1.12"/><circle cx="618.6" cy="570.1" r="1.12"/><circle cx="628.0" cy="570.1" r="1.12"/><circle cx="637.5" cy="570.1" r="1.12"/><circle cx="646.9" cy="570.1" r="1.12"/><circle cx="656.4" cy="570.1" r="1.12"/><circle cx="665.9" cy="570.1" r="1.12"/><circle cx="675.3" cy="570.1" r="1.12"/><circle cx="684.8" cy="570.1" r="1.12"/><circle cx="694.2" cy="570.1" r="1.12"/><circle cx="703.7" cy="570.1" r="1.12"/><circle cx="713.2" cy="570.1" r="1.12"/></g><rect x="166.9" y="597.0" width="185.3" height="5" fill="#fffaf6" opacity=".75" filter="url(#bl)"/><g fill="#6b5244"><circle cx="169.9" cy="599.5" r="1.25"/><circle cx="179.3" cy="599.5" r="1.25"/><circle cx="188.8" cy="599.5" r="1.25"/><circle cx="198.2" cy="599.5" r="1.25"/><circle cx="207.6" cy="599.5" r="1.25"/><circle cx="217.1" cy="599.5" r="1.25"/><circle cx="226.5" cy="599.5" r="1.25"/><circle cx="236.0" cy="599.5" r="1.25"/><circle cx="245.4" cy="599.5" r="1.25"/><circle cx="254.8" cy="599.5" r="1.25"/><circle cx="264.3" cy="599.5" r="1.25"/><circle cx="273.7" cy="599.5" r="1.25"/><circle cx="283.1" cy="599.5" r="1.25"/><circle cx="292.6" cy="599.5" r="1.25"/><circle cx="302.0" cy="599.5" r="1.25"/><circle cx="311.5" cy="599.5" r="1.25"/><circle cx="320.9" cy="599.5" r="1.25"/><circle cx="330.3" cy="599.5" r="1.25"/><circle cx="339.8" cy="599.5" r="1.25"/><circle cx="349.2" cy="599.5" r="1.25"/></g><rect x="415.8" y="593.9" width="81.7" height="5" fill="#fffaf6" opacity=".75" filter="url(#bl)"/><g fill="#8e7a6e"><circle cx="418.8" cy="596.4" r="1.05"/><circle cx="428.2" cy="596.4" r="1.05"/><circle cx="437.7" cy="596.4" r="1.05"/><circle cx="447.1" cy="596.4" r="1.05"/><circle cx="456.6" cy="596.4" r="1.05"/><circle cx="466.1" cy="596.4" r="1.05"/><circle cx="475.5" cy="596.4" r="1.05"/><circle cx="485.0" cy="596.4" r="1.05"/><circle cx="494.4" cy="596.4" r="1.05"/></g><rect x="561.2" y="593.9" width="157.4" height="5" fill="#fffaf6" opacity=".75" filter="url(#bl)"/><g fill="#7d685c"><circle cx="564.2" cy="596.4" r="1.12"/><circle cx="573.7" cy="596.4" r="1.12"/><circle cx="583.1" cy="596.4" r="1.12"/><circle cx="592.6" cy="596.4" r="1.12"/><circle cx="602.0" cy="596.4" r="1.12"/><circle cx="611.5" cy="596.4" r="1.12"/><circle cx="621.0" cy="596.4" r="1.12"/><circle cx="630.4" cy="596.4" r="1.12"/><circle cx="639.9" cy="596.4" r="1.12"/><circle cx="649.3" cy="596.4" r="1.12"/><circle cx="658.8" cy="596.4" r="1.12"/><circle cx="668.3" cy="596.4" r="1.12"/><circle cx="677.7" cy="596.4" r="1.12"/><circle cx="687.2" cy="596.4" r="1.12"/><circle cx="696.6" cy="596.4" r="1.12"/><circle cx="706.1" cy="596.4" r="1.12"/><circle cx="715.6" cy="596.4" r="1.12"/></g><rect x="179.3" y="624.5" width="161.8" height="5" fill="#fffaf6" opacity=".75" filter="url(#bl)"/><g fill="#9a8678"><circle cx="182.3" cy="627.0" r="1.1"/><circle cx="191.5" cy="627.0" r="1.1"/><circle cx="200.6" cy="627.0" r="1.1"/><circle cx="209.8" cy="627.0" r="1.1"/><circle cx="219.0" cy="627.0" r="1.1"/><circle cx="228.1" cy="627.0" r="1.1"/><circle cx="237.3" cy="627.0" r="1.1"/><circle cx="246.5" cy="627.0" r="1.1"/><circle cx="255.6" cy="627.0" r="1.1"/><circle cx="264.8" cy="627.0" r="1.1"/><circle cx="273.9" cy="627.0" r="1.1"/><circle cx="283.1" cy="627.0" r="1.1"/><circle cx="292.3" cy="627.0" r="1.1"/><circle cx="301.4" cy="627.0" r="1.1"/><circle cx="310.6" cy="627.0" r="1.1"/><circle cx="319.8" cy="627.0" r="1.1"/><circle cx="328.9" cy="627.0" r="1.1"/><circle cx="338.1" cy="627.0" r="1.1"/></g><rect x="415.8" y="621.6" width="81.7" height="5" fill="#fffaf6" opacity=".75" filter="url(#bl)"/><g fill="#8e7a6e"><circle cx="418.8" cy="624.1" r="1.05"/><circle cx="428.2" cy="624.1" r="1.05"/><circle cx="437.7" cy="624.1" r="1.05"/><circle cx="447.1" cy="624.1" r="1.05"/><circle cx="456.6" cy="624.1" r="1.05"/><circle cx="466.1" cy="624.1" r="1.05"/><circle cx="475.5" cy="624.1" r="1.05"/><circle cx="485.0" cy="624.1" r="1.05"/><circle cx="494.4" cy="624.1" r="1.05"/></g><rect x="561.2" y="621.6" width="157.4" height="5" fill="#fffaf6" opacity=".75" filter="url(#bl)"/><g fill="#7d685c"><circle cx="564.2" cy="624.1" r="1.12"/><circle cx="573.7" cy="624.1" r="1.12"/><circle cx="583.1" cy="624.1" r="1.12"/><circle cx="592.6" cy="624.1" r="1.12"/><circle cx="602.0" cy="624.1" r="1.12"/><circle cx="611.5" cy="624.1" r="1.12"/><circle cx="621.0" cy="624.1" r="1.12"/><circle cx="630.4" cy="624.1" r="1.12"/><circle cx="639.9" cy="624.1" r="1.12"/><circle cx="649.3" cy="624.1" r="1.12"/><circle cx="658.8" cy="624.1" r="1.12"/><circle cx="668.3" cy="624.1" r="1.12"/><circle cx="677.7" cy="624.1" r="1.12"/><circle cx="687.2" cy="624.1" r="1.12"/><circle cx="696.6" cy="624.1" r="1.12"/><circle cx="706.1" cy="624.1" r="1.12"/><circle cx="715.6" cy="624.1" r="1.12"/></g></svg>
</body></html>
